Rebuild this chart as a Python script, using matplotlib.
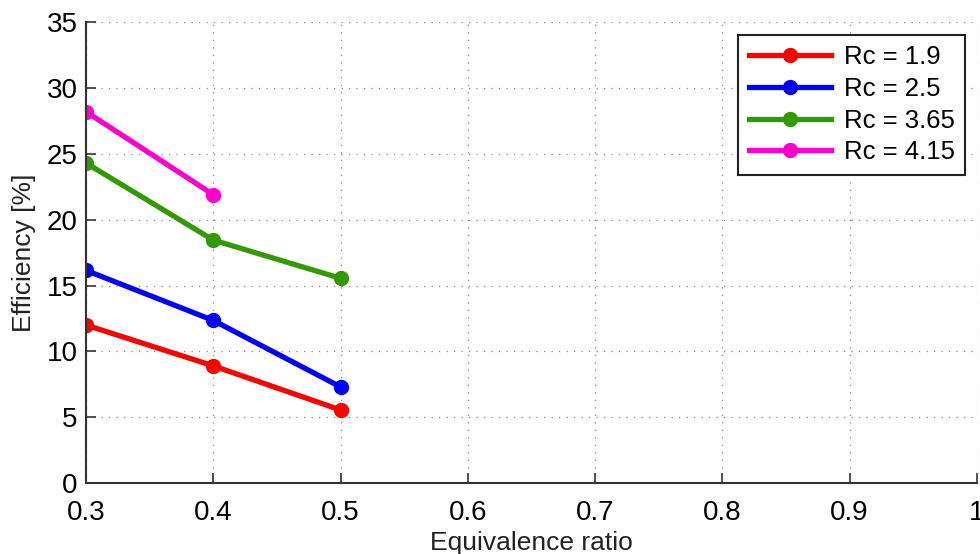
import matplotlib
matplotlib.use('Agg')
import matplotlib.pyplot as plt

plt.rcParams['font.family'] = ['Liberation Sans', 'DejaVu Sans']

phi = [0.3, 0.4, 0.5]
eff_19 = [12.0, 8.9, 5.55]
eff_25 = [16.15, 12.35, 7.3]
eff_365 = [24.3, 18.45, 15.55]
phi_415 = [0.3, 0.4]
eff_415 = [28.2, 21.9]

fig = plt.figure(figsize=(9.8, 5.54), dpi=100)
ax = fig.add_axes([0.0878, 0.128, 0.909, 0.832])

ax.plot(phi, eff_19, '-o', color='#ff0000', lw=3.8, ms=10, label='Rc = 1.9')
ax.plot(phi, eff_25, '-o', color='#0000ff', lw=3.8, ms=10, label='Rc = 2.5')
ax.plot(phi, eff_365, '-o', color='#339900', lw=3.8, ms=10, label='Rc = 3.65')
ax.plot(phi_415, eff_415, '-o', color='#ff00cc', lw=3.8, ms=10, label='Rc = 4.15')

ax.set_xlim(0.3, 1.0)
ax.set_ylim(0, 35)
ax.set_xticks([0.3, 0.4, 0.5, 0.6, 0.7, 0.8, 0.9, 1.0])
ax.set_xticklabels(['0.3', '0.4', '0.5', '0.6', '0.7', '0.8', '0.9', '1'])
ax.set_yticks(range(0, 36, 5))
ax.grid(True, linestyle=(0, (1, 5)), color='#888888', linewidth=0.9)
ax.spines['top'].set_visible(False)
ax.spines['right'].set_visible(False)
ax.spines['left'].set_color('#333333')
ax.spines['bottom'].set_color('#333333')
ax.spines['left'].set_linewidth(1.5)
ax.spines['bottom'].set_linewidth(1.5)
ax.tick_params(direction='in', length=7, width=1.2, color='#333333', labelsize=20)
ax.tick_params(axis='x', pad=12)
ax.tick_params(axis='y', pad=6)

ax.set_xlabel('Equivalence ratio', fontsize=19, color='#222222', labelpad=4)
ax.set_ylabel('Efficiency [%]', fontsize=19, color='#222222', labelpad=8)

leg = ax.legend(loc='upper right', bbox_to_anchor=(1.001, 1.0), fontsize=18.5, fancybox=False,
                edgecolor='#222222', framealpha=1, handlelength=3.2, handletextpad=0.5,
                labelspacing=0.3, borderpad=0.4)
leg.get_frame().set_linewidth(1.5)

fig.savefig('out.png', dpi=100)
